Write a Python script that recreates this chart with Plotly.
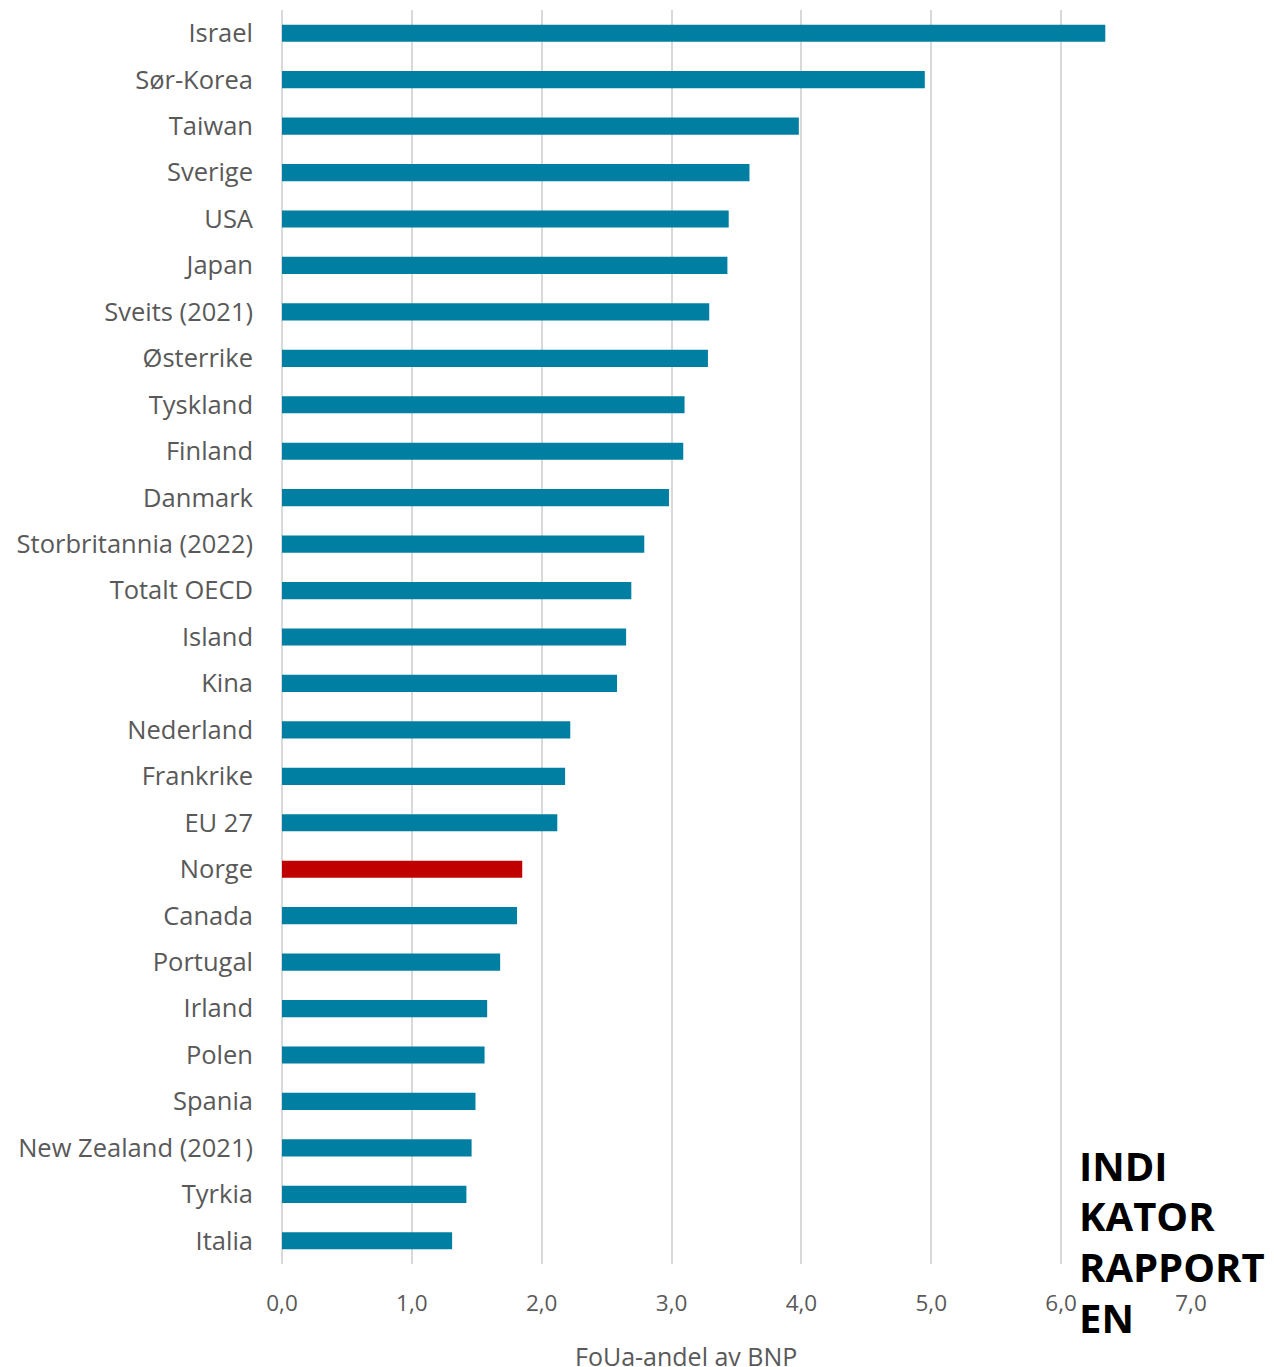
import plotly.graph_objects as go

countries = ["Israel", "Sør-Korea", "Taiwan", "Sverige", "USA", "Japan", "Sveits (2021)",
             "Østerrike", "Tyskland", "Finland", "Danmark", "Storbritannia (2022)", "Totalt OECD",
             "Island", "Kina", "Nederland", "Frankrike", "EU 27", "Norge", "Canada", "Portugal",
             "Irland", "Polen", "Spania", "New Zealand (2021)", "Tyrkia", "Italia"]
values = [6.34, 4.95, 3.98, 3.60, 3.44, 3.43, 3.29, 3.28, 3.10, 3.09, 2.98, 2.79, 2.69,
          2.65, 2.58, 2.22, 2.18, 2.12, 1.85, 1.81, 1.68, 1.58, 1.56, 1.49, 1.46, 1.42, 1.31]
tick_vals = [0, 1, 2, 3, 4, 5, 6, 7]
tick_text = ["0,0", "1,0", "2,0", "3,0", "4,0", "5,0", "6,0", "7,0"]
axis_title = "FoUa-andel av BNP"
logo_lines = ["INDI", "KATOR", "RAPPORT", "EN"]

colors = ["#C00000" if c == "Norge" else "#007FA3" for c in countries]

fig = go.Figure(go.Bar(
    x=values, y=countries, orientation="h",
    marker=dict(color=colors, line=dict(width=0)),
    width=0.37,
))

W, H = 1274, 1367
off = 8  # page body margin
ml, mr, mt, mb = 282 - off, W - (1191 - off), 10 - off, H - (1264 - off)

fig.update_layout(
    width=W, height=H,
    margin=dict(l=ml, r=mr, t=mt, b=mb),
    plot_bgcolor="white", paper_bgcolor="white",
    showlegend=False,
    font=dict(family="Open Sans", size=22, color="#595959"),
)
fig.update_xaxes(
    range=[0, 7], tickvals=tick_vals, ticktext=tick_text,
    showgrid=True, gridcolor="#d9d9d9", gridwidth=2,
    zeroline=True, zerolinecolor="#d9d9d9", zerolinewidth=2,
    showline=False, ticks="", ticklabelstandoff=23,
    tickfont=dict(size=22.5, color="#595959"), fixedrange=True,
)
fig.update_yaxes(
    categoryorder="array", categoryarray=countries, autorange="reversed",
    showgrid=False, showline=False, ticks="", ticklabelstandoff=28,
    tickfont=dict(size=25.5, color="#595959"),
)

plot_w = W - ml - mr
plot_h = H - mt - mb

fig.add_annotation(
    text=axis_title, xref="paper", yref="paper", x=(686 - 8 - ml) / plot_w, y=0,
    xanchor="center", yanchor="top", yshift=-73, showarrow=False,
    font=dict(size=25, color="#595959", family="Open Sans"),
)

line_centers = [1165, 1215, 1266, 1317]
for txt, yc in zip(logo_lines, line_centers):
    fig.add_annotation(
        text="<b>" + txt + "</b>", xref="paper", yref="paper",
        x=(1077 - off - ml) / plot_w, y=1 - (yc - off - mt) / plot_h,
        xanchor="left", yanchor="middle", showarrow=False,
        font=dict(size=40, color="black", family="Open Sans"),
    )

fig.write_html("out.html")
